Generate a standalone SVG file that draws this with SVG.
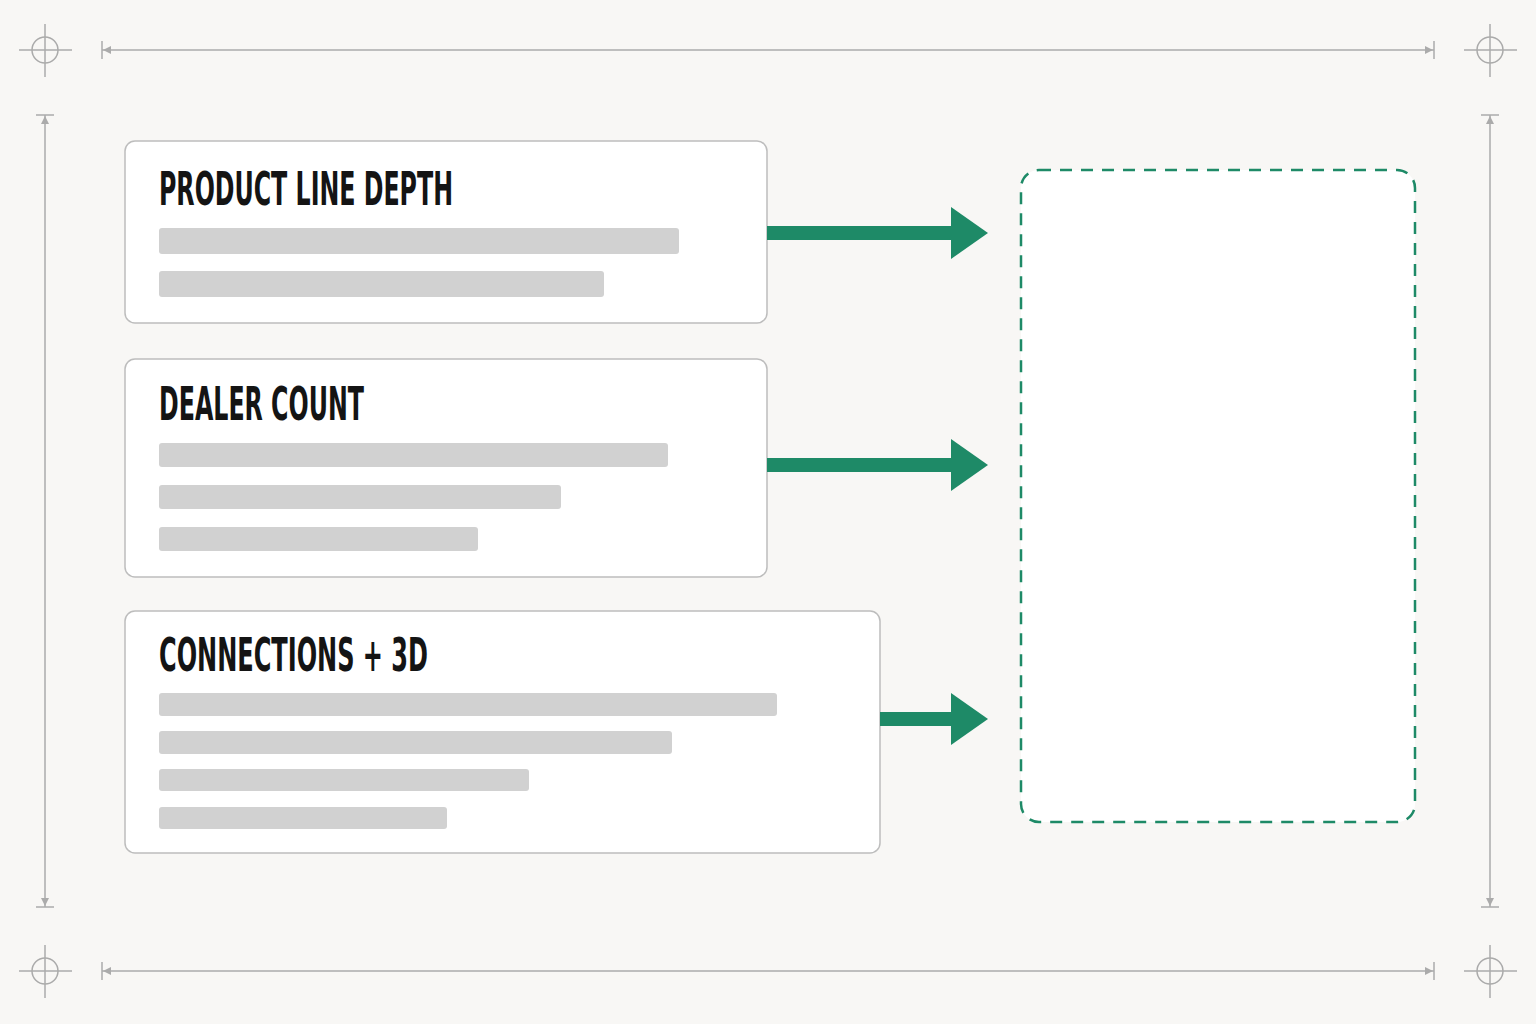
<svg xmlns="http://www.w3.org/2000/svg" width="1536" height="1024" viewBox="0 0 1536 1024">
<style>
.dim{stroke:#ababab;stroke-width:1.5;fill:none}
.tri{fill:#ababab}
.card{fill:#ffffff;stroke:#bdbdbd;stroke-width:1.5}
.bar{fill:#d1d1d1}
.title{font-family:"Liberation Sans Narrow","DejaVu Sans Condensed","Liberation Sans",sans-serif;font-weight:bold;font-size:46px;fill:#141414}
.shaft{stroke:#1e8a67;stroke-width:14;fill:none}
.head{fill:#1e8a67}
</style>
<rect width="1536" height="1024" fill="#f8f7f5"/>
<g id="frame">
<g id="cross-tl"><circle class="dim" cx="45" cy="50" r="13"/><line class="dim" x1="19" y1="50" x2="72" y2="50"/><line class="dim" x1="45" y1="24" x2="45" y2="77"/></g>
<g id="cross-tr"><circle class="dim" cx="1490" cy="50" r="13"/><line class="dim" x1="1464" y1="50" x2="1517" y2="50"/><line class="dim" x1="1490" y1="24" x2="1490" y2="77"/></g>
<g id="cross-bl"><circle class="dim" cx="45" cy="971" r="13"/><line class="dim" x1="19" y1="971" x2="72" y2="971"/><line class="dim" x1="45" y1="945" x2="45" y2="998"/></g>
<g id="cross-br"><circle class="dim" cx="1490" cy="971" r="13"/><line class="dim" x1="1464" y1="971" x2="1517" y2="971"/><line class="dim" x1="1490" y1="945" x2="1490" y2="998"/></g>
<g id="dim-top"><line class="dim" x1="102" y1="50" x2="1434" y2="50"/><line class="dim" x1="102" y1="41" x2="102" y2="59"/><line class="dim" x1="1434" y1="41" x2="1434" y2="59"/><path class="tri" d="M103 50 L111 46 L111 54 Z"/><path class="tri" d="M1433 50 L1425 46 L1425 54 Z"/></g>
<g id="dim-bottom"><line class="dim" x1="102" y1="971" x2="1434" y2="971"/><line class="dim" x1="102" y1="962" x2="102" y2="980"/><line class="dim" x1="1434" y1="962" x2="1434" y2="980"/><path class="tri" d="M103 971 L111 967 L111 975 Z"/><path class="tri" d="M1433 971 L1425 967 L1425 975 Z"/></g>
<g id="dim-left"><line class="dim" x1="45" y1="115" x2="45" y2="907"/><line class="dim" x1="36" y1="115" x2="54" y2="115"/><line class="dim" x1="36" y1="907" x2="54" y2="907"/><path class="tri" d="M45 116 L41 124 L49 124 Z"/><path class="tri" d="M45 906 L41 898 L49 898 Z"/></g>
<g id="dim-right"><line class="dim" x1="1490" y1="115" x2="1490" y2="907"/><line class="dim" x1="1481" y1="115" x2="1499" y2="115"/><line class="dim" x1="1481" y1="907" x2="1499" y2="907"/><path class="tri" d="M1490 116 L1486 124 L1494 124 Z"/><path class="tri" d="M1490 906 L1486 898 L1494 898 Z"/></g>
</g>
<g id="node-product-line-depth">
<rect class="card" x="125" y="141" width="642" height="182" rx="10"/>
<text class="title" x="159" y="205" textLength="294" lengthAdjust="spacingAndGlyphs">PRODUCT LINE DEPTH</text>
<rect class="bar" x="159" y="228" width="520" height="26" rx="3"/>
<rect class="bar" x="159" y="271" width="445" height="26" rx="3"/>
</g>
<g id="node-dealer-count">
<rect class="card" x="125" y="359" width="642" height="218" rx="10"/>
<text class="title" x="159" y="420" textLength="205" lengthAdjust="spacingAndGlyphs">DEALER COUNT</text>
<rect class="bar" x="159" y="443" width="509" height="24" rx="3"/>
<rect class="bar" x="159" y="485" width="402" height="24" rx="3"/>
<rect class="bar" x="159" y="527" width="319" height="24" rx="3"/>
</g>
<g id="node-connections-3d">
<rect class="card" x="125" y="611" width="755" height="242" rx="10"/>
<text class="title" x="159" y="671" textLength="269" lengthAdjust="spacingAndGlyphs">CONNECTIONS + 3D</text>
<rect class="bar" x="159" y="693" width="618" height="23" rx="3"/>
<rect class="bar" x="159" y="731" width="513" height="23" rx="3"/>
<rect class="bar" x="159" y="769" width="370" height="22" rx="3"/>
<rect class="bar" x="159" y="807" width="288" height="22" rx="3"/>
</g>
<g id="node-target">
<rect x="1021" y="170" width="394" height="652" rx="18" fill="#ffffff" stroke="#1e8a67" stroke-width="2.5" stroke-dasharray="12 9"/>
</g>
<g id="connectors">
<line class="shaft" x1="767" y1="233" x2="953" y2="233"/><path class="head" d="M951 207 L988 233 L951 259 Z"/>
<line class="shaft" x1="767" y1="465" x2="953" y2="465"/><path class="head" d="M951 439 L988 465 L951 491 Z"/>
<line class="shaft" x1="880" y1="719" x2="953" y2="719"/><path class="head" d="M951 693 L988 719 L951 745 Z"/>
</g>
</svg>
